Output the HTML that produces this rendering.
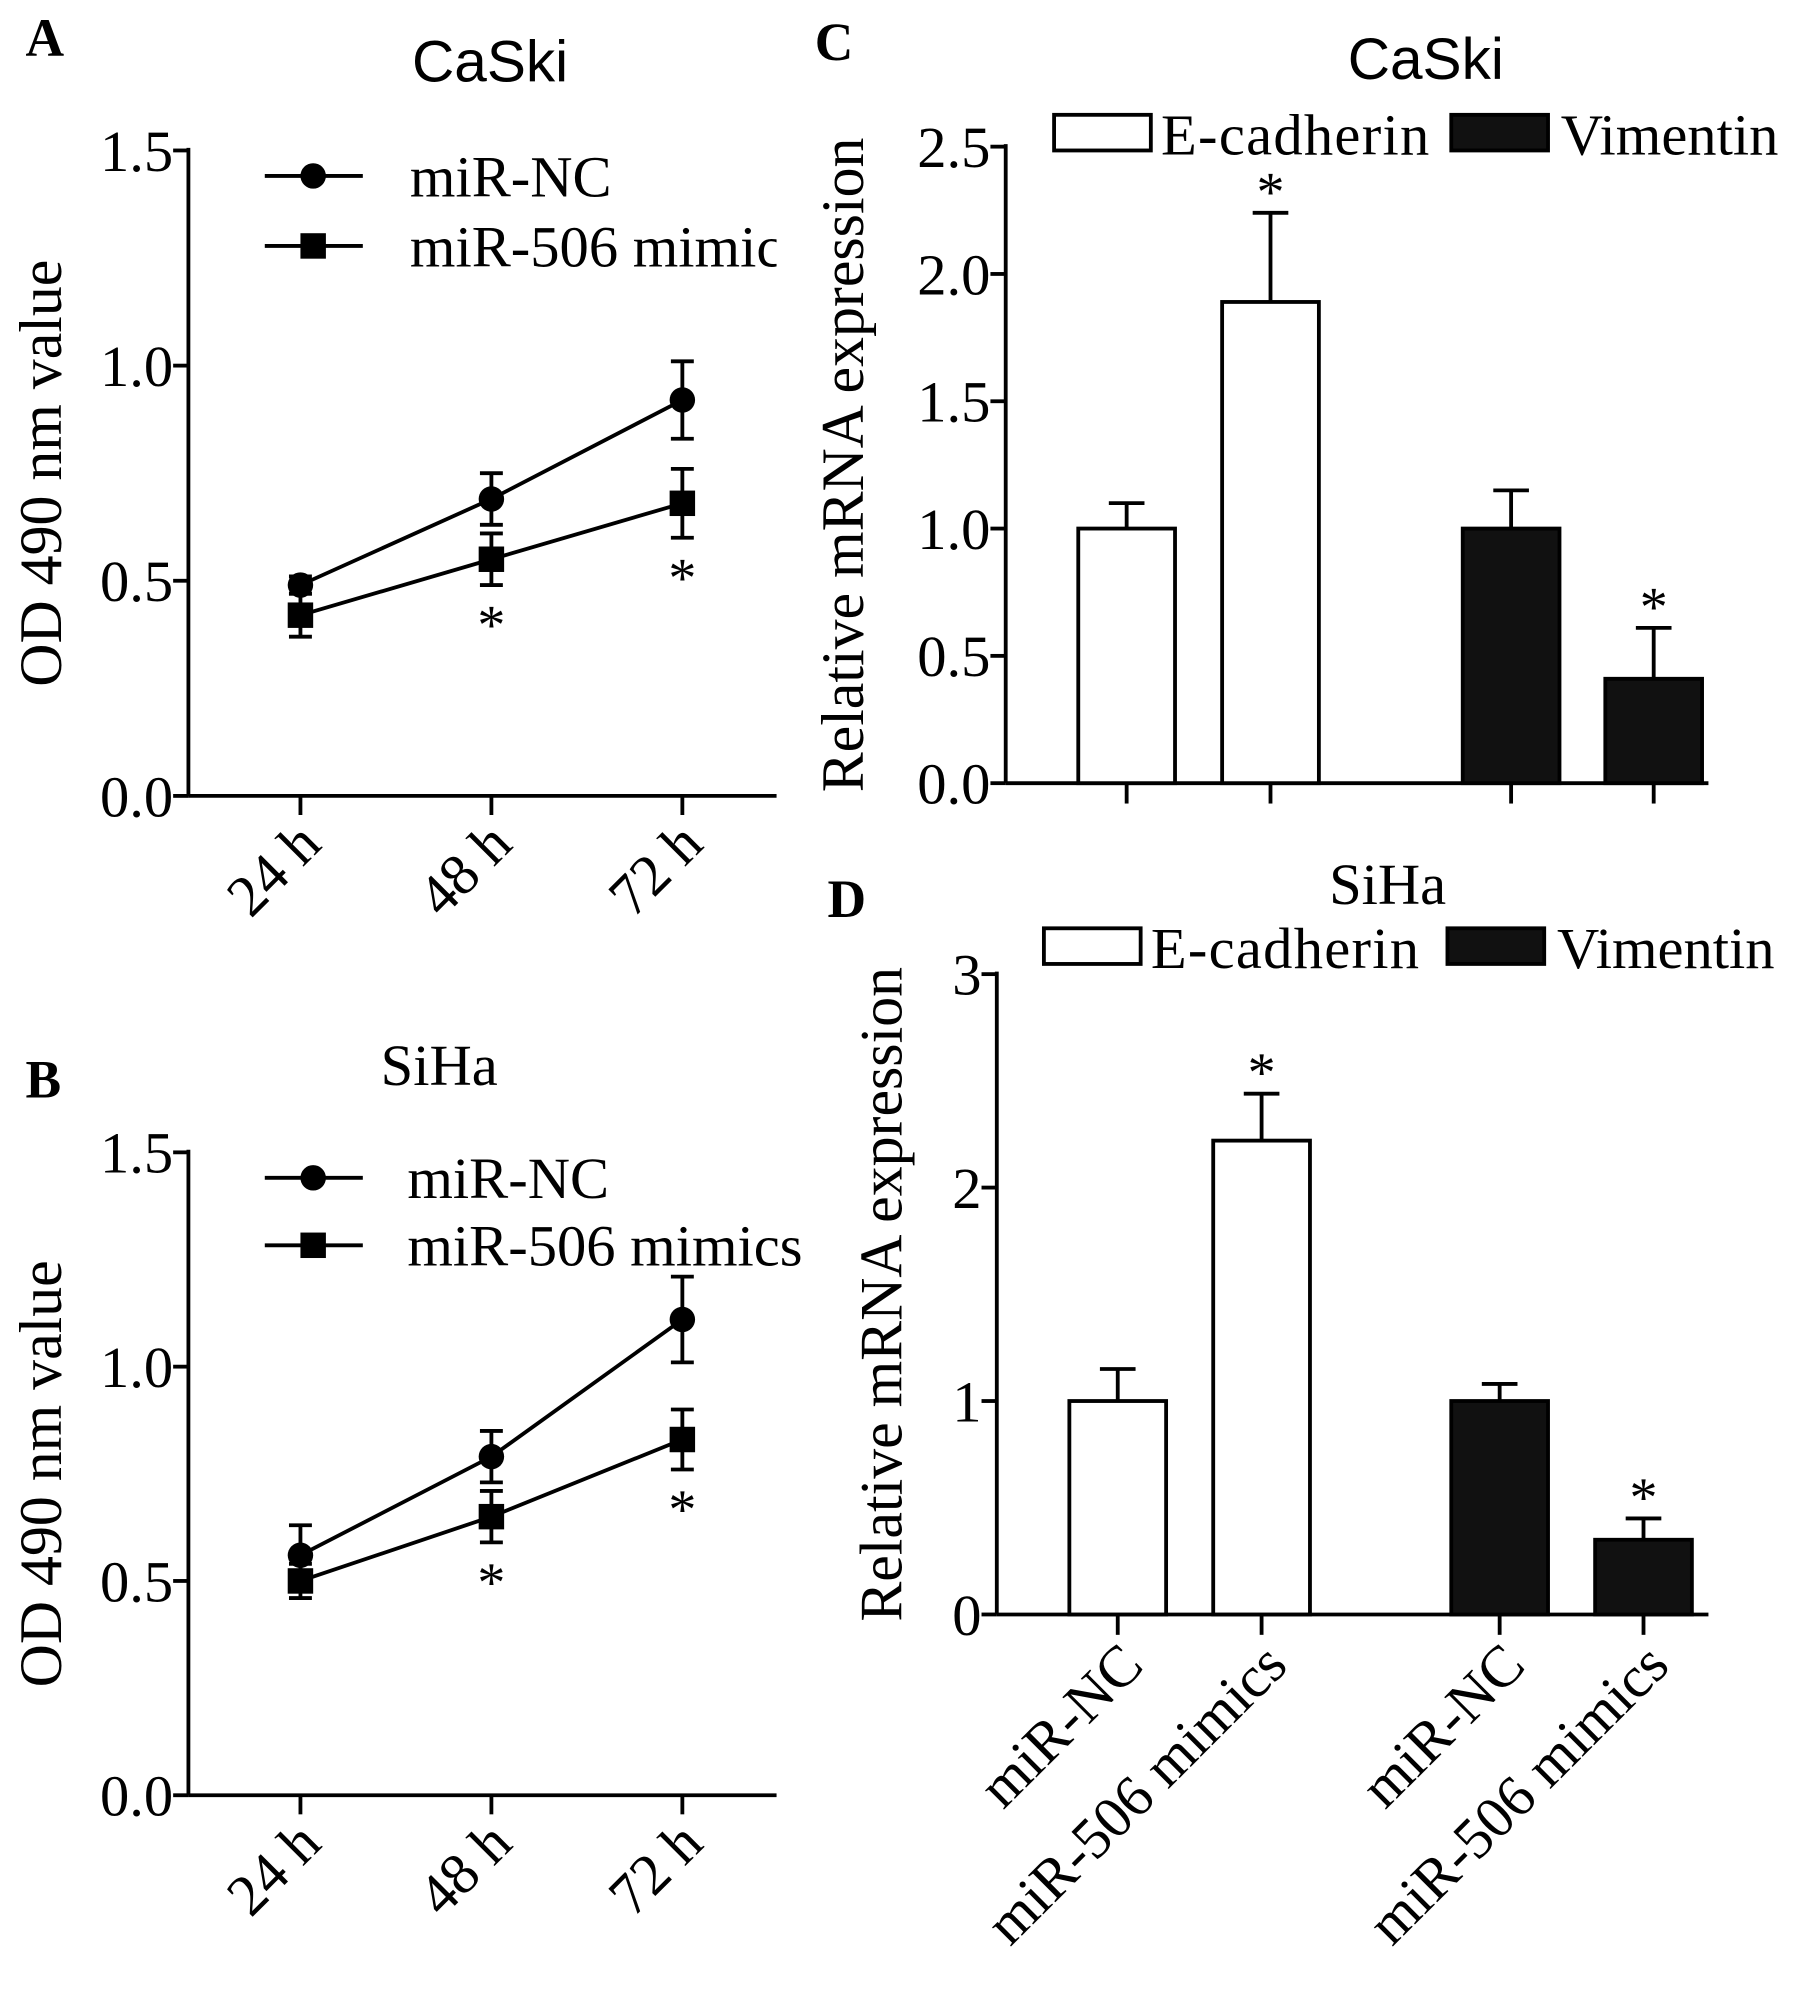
<!DOCTYPE html>
<html><head><meta charset="utf-8"><style>
html,body{margin:0;padding:0;background:#fff;}
svg{display:block;font-family:"Liberation Serif",serif;}
</style></head><body>
<svg id="fig" width="1795" height="2003" viewBox="0 0 1410 1573" xmlns="http://www.w3.org/2000/svg"></svg>
<script>
const timeCats = ["24 h","48 h","72 h"];
const caskiNC = [0.49, 0.69, 0.92];
const caskiNCErr = [0.02, 0.06, 0.09];
const caskiMim = [0.42, 0.55, 0.68];
const caskiMimErr = [0.05, 0.06, 0.08];
const caskiStars = [false, true, true];
const sihaNC = [0.56, 0.79, 1.11];
const sihaNCErr = [0.07, 0.06, 0.10];
const sihaMim = [0.50, 0.65, 0.83];
const sihaMimErr = [0.04, 0.06, 0.07];
const sihaStars = [false, true, true];
const odTicks = [0.0, 0.5, 1.0, 1.5];
const barCats = ["miR-NC","miR-506 mimics","miR-NC","miR-506 mimics"];
const caskiBars = [1.0, 1.89, 1.0, 0.41];
const caskiBarErr = [0.10, 0.35, 0.15, 0.20];
const caskiBarStars = [false, true, false, true];
const caskiBarTicks = [0.0, 0.5, 1.0, 1.5, 2.0, 2.5];
const sihaBars = [1.0, 2.22, 1.0, 0.35];
const sihaBarErr = [0.15, 0.22, 0.08, 0.10];
const sihaBarStars = [false, true, false, true];
const sihaBarTicks = [0, 1, 2, 3];

const svg = document.getElementById('fig');
const NS = "http://www.w3.org/2000/svg";
const FS = 46;
function el(tag, attrs, name, parent){
  const e = document.createElementNS(NS, tag);
  for (const k in attrs) e.setAttribute(k, attrs[k]);
  
  
  (parent||svg).appendChild(e);
  return e;
}
function txt(x,y,s,size,name,extra){
  const t = el('text', Object.assign({x:x,y:y,'font-size':size,fill:'#000'}, extra||{}), name);
  t.textContent = s;
  return t;
}
const SW = 3;

function linePanel(o){
  const y = v => o.y0 - (v - o.vmin)/(o.vmax - o.vmin)*(o.y0 - o.y1);
  const xs = [236, 386, 536];
  el('line',{x1:o.ax,y1:o.y1-2,x2:o.ax,y2:o.y0,stroke:'#000','stroke-width':SW},'y-axis');
  el('line',{x1:o.ax,y1:o.y0,x2:610,y2:o.y0,stroke:'#000','stroke-width':SW},'x-axis');
  odTicks.forEach(v=>{
    el('line',{x1:o.ax-12,y1:y(v),x2:o.ax,y2:y(v),stroke:'#000','stroke-width':SW},'y-tick');
    txt(o.ax-12,y(v)+16,v.toFixed(1),FS,'y-tick-label',{'text-anchor':'end'});
  });
  timeCats.forEach((c,i)=>{
    el('line',{x1:xs[i],y1:o.y0,x2:xs[i],y2:o.y0+15,stroke:'#000','stroke-width':SW},'x-tick');
    txt(xs[i]+18,o.y0+40,c,FS,'x-tick-label',{'text-anchor':'end',transform:`rotate(-45 ${xs[i]+18} ${o.y0+40})`});
  });
  txt(o.tx,o.ty,o.title,FS,'panel-title',{'text-anchor':'middle','font-family':o.titleFont||'Liberation Serif'});
  txt(20,o.ly,o.letter,42,'panel-letter',{'font-weight':'bold'});
  const ytitleY = (o.y0+o.y1)/2;
  txt(48,ytitleY,'OD 490 nm value',47,'y-axis-title',{'text-anchor':'middle',transform:`rotate(-90 48 ${ytitleY})`});
  [[o.nc,o.ncErr,'circle'],[o.mim,o.mimErr,'square']].forEach(([vals,errs,shape])=>{
    const pts = vals.map((v,i)=>xs[i]+','+y(v)).join(' ');
    el('polyline',{points:pts,fill:'none',stroke:'#000','stroke-width':SW},shape==='circle'?'series-line-nc':'series-line-mimics');
    vals.forEach((v,i)=>{
      const hi=y(v+errs[i]), lo=y(v-errs[i]);
      el('line',{x1:xs[i],y1:hi,x2:xs[i],y2:lo,stroke:'#000','stroke-width':SW},'error-bar');
      el('line',{x1:xs[i]-9,y1:hi,x2:xs[i]+9,y2:hi,stroke:'#000','stroke-width':SW},'error-cap');
      el('line',{x1:xs[i]-9,y1:lo,x2:xs[i]+9,y2:lo,stroke:'#000','stroke-width':SW},'error-cap');
      if(shape==='circle') el('circle',{cx:xs[i],cy:y(v),r:10,fill:'#000'},'point-nc');
      else el('rect',{x:xs[i]-10,y:y(v)-10,width:20,height:20,fill:'#000'},'point-mimics');
    });
  });
  o.stars.forEach((s,i)=>{ if(s){ const yy = y(o.mim[i]-o.mimErr[i]); txt(xs[i],yy+46,'*',44,'significance-star',{'text-anchor':'middle'}); }});
  el('line',{x1:208,y1:o.leg1,x2:285,y2:o.leg1,stroke:'#000','stroke-width':SW},'legend-line-nc');
  el('circle',{cx:246,cy:o.leg1,r:10,fill:'#000'},'legend-marker-nc');
  txt(o.legTx,o.leg1+16,'miR-NC',FS,'legend-label-nc');
  el('line',{x1:208,y1:o.leg2,x2:285,y2:o.leg2,stroke:'#000','stroke-width':SW},'legend-line-mimics');
  el('rect',{x:236,y:o.leg2-10,width:20,height:20,fill:'#000'},'legend-marker-mimics');
  txt(o.legTx,o.leg2+16,o.mimLabel,FS,'legend-label-mimics');
}
linePanel({ax:148,y0:625,y1:118,vmin:0,vmax:1.5,nc:caskiNC,ncErr:caskiNCErr,mim:caskiMim,mimErr:caskiMimErr,stars:caskiStars,
  title:'CaSki',tx:385,ty:64,titleFont:'Liberation Sans',letter:'A',ly:44,leg1:138,leg2:193,legTx:322,mimLabel:'miR-506 mimic'});
el('rect',{x:610,y:160,width:60,height:60,fill:'#fff'},'legend-clip');
linePanel({ax:148,y0:1410,y1:905,vmin:0,vmax:1.5,nc:sihaNC,ncErr:sihaNCErr,mim:sihaMim,mimErr:sihaMimErr,stars:sihaStars,
  title:'SiHa',tx:345,ty:852,letter:'B',ly:862,leg1:925,leg2:978,legTx:320,mimLabel:'miR-506 mimics'});

function barPanel(o){
  const y = v => o.y0 - v/o.vmax*(o.y0 - o.y1);
  const xs = o.xs, bw = 76;
  el('line',{x1:o.ax,y1:o.y1-2,x2:o.ax,y2:o.y0,stroke:'#000','stroke-width':SW},'y-axis');
  el('line',{x1:o.ax,y1:o.y0,x2:1342,y2:o.y0,stroke:'#000','stroke-width':SW},'x-axis');
  o.ticks.forEach(v=>{
    el('line',{x1:o.ax-12,y1:y(v),x2:o.ax,y2:y(v),stroke:'#000','stroke-width':SW},'y-tick');
    txt(o.ax-12,y(v)+16,o.dec?v.toFixed(1):String(v),FS,'y-tick-label',{'text-anchor':'end'});
  });
  o.vals.forEach((v,i)=>{
    const black = i>=2;
    const top = y(v+o.errs[i]);
    el('line',{x1:xs[i],y1:top,x2:xs[i],y2:y(v),stroke:'#000','stroke-width':SW},'error-bar');
    el('line',{x1:xs[i]-14,y1:top,x2:xs[i]+14,y2:top,stroke:'#000','stroke-width':SW},'error-cap');
    el('rect',{x:xs[i]-bw/2,y:y(v),width:bw,height:o.y0-y(v),fill:black?'#111':'#fff',stroke:'#000','stroke-width':SW},'bar-'+(black?'vimentin':'e-cadherin')+'-'+(i%2?'mimics':'nc'));
    el('line',{x1:xs[i],y1:o.y0,x2:xs[i],y2:o.y0+16,stroke:'#000','stroke-width':SW},'x-tick');
    if(o.stars[i]) txt(xs[i],top-2,'*',44,'significance-star',{'text-anchor':'middle'});
    if(o.xlabels){
      const lx=xs[i]+22, ly=o.y0+42;
      txt(lx,ly,barCats[i],FS,'x-tick-label',{'text-anchor':'end',transform:`rotate(-45 ${lx} ${ly})`});
    }
  });
  txt(o.tx,o.ty,o.title,FS,'panel-title',{'text-anchor':'middle','font-family':o.titleFont||'Liberation Serif'});
  txt(o.lx,o.ly,o.letter,42,'panel-letter',{'font-weight':'bold'});
  const yt=(o.y0+o.y1)/2;
  txt(o.ytx,yt,'Relative mRNA expression',47,'y-axis-title',{'text-anchor':'middle',transform:`rotate(-90 ${o.ytx} ${yt})`});
  el('rect',{x:o.lb1,y:o.legY,width:76,height:28,fill:'#fff',stroke:'#000','stroke-width':SW},'legend-swatch-e-cadherin');
  txt(o.lb1+84,o.legY+31,'E-cadherin',FS,'legend-label-e-cadherin',{'letter-spacing':'1'});
  el('rect',{x:o.lb2,y:o.legY,width:76,height:28,fill:'#111',stroke:'#000','stroke-width':SW},'legend-swatch-vimentin');
  txt(o.lb2+86,o.legY+31,'Vimentin',FS,'legend-label-vimentin');
}
barPanel({ax:790,y0:615,y1:115,vmax:2.5,xs:[885,998,1187,1299],vals:caskiBars,errs:caskiBarErr,stars:caskiBarStars,ticks:caskiBarTicks,dec:true,
  title:'CaSki',tx:1120,ty:62,titleFont:'Liberation Sans',letter:'C',lx:640,ly:47,ytx:678,legY:90,lb1:828,lb2:1140,xlabels:false});
barPanel({ax:783,y0:1268,y1:765,vmax:3,xs:[878,991,1178,1291],vals:sihaBars,errs:sihaBarErr,stars:sihaBarStars,ticks:sihaBarTicks,dec:false,
  title:'SiHa',tx:1090,ty:710,letter:'D',lx:650,ly:720,ytx:708,legY:729,lb1:820,lb2:1137,xlabels:true});
</script>
</body></html>
